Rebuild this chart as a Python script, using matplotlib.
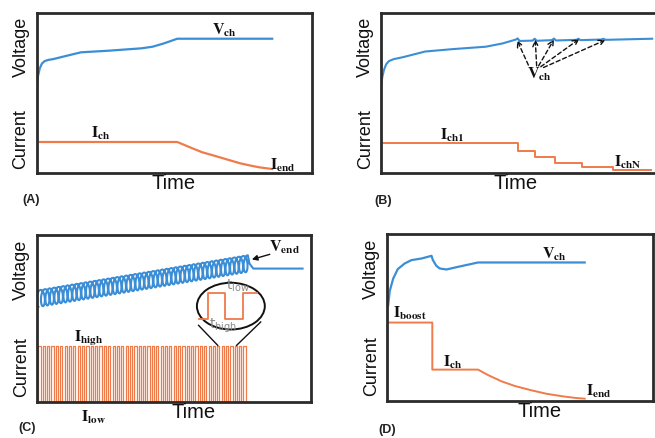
import matplotlib.pyplot as plt
from matplotlib.patches import Ellipse
import numpy as np

plt.rcParams['font.family'] = ['Liberation Sans', 'DejaVu Sans']
plt.rcParams['mathtext.fontset'] = 'stix'

BLUE = '#3b8ed6'
ORANGE = '#ef7b4b'
EDGE = '#2b2b2b'

#==============================================================================
# Data (x and y are fractions of each panel box)
#==============================================================================
# (A) CC-CV
a_v_t = [0.0, 0.004, 0.01, 0.018, 0.028, 0.04, 0.06, 0.10, 0.16, 0.26, 0.38, 0.42,
         0.46, 0.51, 0.855]
a_v = [0.56, 0.61, 0.655, 0.685, 0.70, 0.707, 0.713, 0.73, 0.755, 0.765, 0.78, 0.79,
       0.81, 0.84, 0.84]
a_i_t = [0.01, 0.51, 0.55, 0.60, 0.655, 0.70, 0.74, 0.78, 0.81, 0.855]
a_i = [0.194, 0.194, 0.165, 0.13, 0.103, 0.08, 0.06, 0.045, 0.035, 0.025]

# (B) multistage constant current
b_v_t = [0.0, 0.004, 0.01, 0.018, 0.028, 0.045, 0.08, 0.16, 0.26, 0.38, 0.44, 0.49,
         0.496, 0.503, 0.55, 0.558, 0.565, 0.62, 0.628, 0.635, 0.71, 0.717, 0.724,
         0.80, 0.808, 0.815, 0.985]
b_v = [0.55, 0.60, 0.645, 0.68, 0.70, 0.712, 0.725, 0.76, 0.775, 0.79, 0.81, 0.835,
       0.842, 0.826, 0.828, 0.84, 0.827, 0.831, 0.841, 0.829, 0.833, 0.84, 0.831,
       0.835, 0.84, 0.833, 0.84]
b_i_t = [0.0, 0.496, 0.56, 0.633, 0.73, 0.841, 0.98]
b_i = [0.1875, 0.14, 0.098, 0.0625, 0.035, 0.017, 0.017]
b_arrow_from = [(0.535, 0.675), (0.565, 0.67), (0.572, 0.67), (0.58, 0.665), (0.59, 0.66)]
b_arrow_to = [(0.494, 0.83), (0.56, 0.835), (0.628, 0.835), (0.72, 0.838), (0.815, 0.832)]

# (C) pulse charging
c_n_pulse = 48
c_pulse_start, c_pulse_end = 0.005, 0.77
c_i_high, c_i_low = 0.334, 0.0
c_v_cycles = 46.5
c_v_base_start, c_v_base_end = 0.62, 0.83
c_v_amp = 0.05
c_v_loop = 0.011
c_v_tail_t = [0.77, 0.776, 0.79, 0.97]
c_v_tail = [0.88, 0.83, 0.80, 0.80]
c_zoom_t = [0.59, 0.626, 0.626, 0.688, 0.688, 0.752, 0.752, 0.805]
c_zoom_i = [0.50, 0.50, 0.655, 0.655, 0.50, 0.50, 0.655, 0.655]

# (D) boost charging
d_v_t = [0.004, 0.01, 0.023, 0.04, 0.066, 0.091, 0.13, 0.167, 0.172, 0.185, 0.198,
         0.223, 0.267, 0.342, 0.743]
d_v = [0.574, 0.66, 0.734, 0.79, 0.824, 0.844, 0.854, 0.87, 0.845, 0.81, 0.794,
       0.788, 0.804, 0.83, 0.83]
d_i_t = [0.004, 0.17, 0.17, 0.342, 0.38, 0.43, 0.48, 0.54, 0.60, 0.66, 0.71, 0.743]
d_i = [0.47, 0.47, 0.188, 0.188, 0.155, 0.118, 0.09, 0.065, 0.043, 0.028, 0.018, 0.014]


def setup(rect, letter, letter_xy, time_x):
    ax = fig.add_axes(rect)
    ax.set_xlim(0, 1)
    ax.set_ylim(0, 1)
    ax.set_xticks([])
    ax.set_yticks([])
    for sp in ax.spines.values():
        sp.set_color(EDGE)
        sp.set_linewidth(2.0)
    ax.text(-0.058, 0.79, 'Voltage', rotation=90, fontsize=13, color='#111111',
            ha='center', va='center', transform=ax.transAxes)
    ax.text(-0.058, 0.21, 'Current', rotation=90, fontsize=13, color='#111111',
            ha='center', va='center', transform=ax.transAxes)
    ax.text(time_x, -0.065, 'Time', fontsize=14.5, color='#111111',
            ha='center', va='center', transform=ax.transAxes)
    fig.text(letter_xy[0], letter_xy[1], letter, fontsize=9, fontweight='bold',
             color='#222222', ha='center', va='center')
    return ax


def lab(ax, x, y, txt, size=11.5):
    ax.text(x, y, txt, fontsize=size, color='#111111', ha='center', va='center')


fig = plt.figure(figsize=(6.55, 4.38), dpi=100)

# (A)
ax = setup([0.0565, 0.605, 0.42, 0.365], '(A)', (0.048, 0.543), 0.495)
ax.plot(a_v_t, a_v, color=BLUE, lw=1.6)
ax.plot(a_i_t, a_i, color=ORANGE, lw=1.6)
lab(ax, 0.68, 0.895, r'$\mathbf{V_{ch}}$')
lab(ax, 0.23, 0.25, r'$\mathbf{I_{ch}}$')
lab(ax, 0.895, 0.05, r'$\mathbf{I_{end}}$')

# (B)
ax = setup([0.582, 0.605, 0.42, 0.365], '(B)', (0.585, 0.541), 0.49)
ax.plot(b_v_t, b_v, color=BLUE, lw=1.5)
ax.step(b_i_t, b_i, where='post', color=ORANGE, lw=1.4)
for p0, p1 in zip(b_arrow_from, b_arrow_to):
    ax.annotate('', xy=p1, xytext=p0,
                arrowprops=dict(arrowstyle='->', color='#111111', lw=1.0,
                                linestyle=(0, (3, 2)), shrinkA=0, shrinkB=0))
lab(ax, 0.575, 0.615, r'$\mathbf{V_{ch}}$')
lab(ax, 0.26, 0.235, r'$\mathbf{I_{ch1}}$')
lab(ax, 0.895, 0.065, r'$\mathbf{I_{chN}}$')

# (C)
ax = setup([0.0565, 0.082, 0.418, 0.381], '(C)', (0.041, 0.023), 0.57)
# voltage coil riding on a rising baseline
s = np.linspace(0, 1, 8000)
ph = 2 * np.pi * c_v_cycles * s
tc = c_pulse_start + (c_pulse_end - c_pulse_start) * s
base = c_v_base_start + (c_v_base_end - c_v_base_start) * s
cx = tc - c_v_loop * np.sin(ph)
cy = base - c_v_amp * np.cos(ph)
ax.plot(np.append(cx, c_v_tail_t), np.append(cy, c_v_tail), color=BLUE, lw=1.5)
# current pulse train
edges = np.linspace(c_pulse_start, c_pulse_end, 2 * c_n_pulse + 1)
levels = np.append(np.tile([c_i_high, c_i_low], c_n_pulse), c_i_low)
ax.step(np.insert(edges, 0, c_pulse_start), np.insert(levels, 0, c_i_low),
        where='post', color=ORANGE, lw=0.9)
# magnifier
ax.add_patch(Ellipse((0.708, 0.575), 0.248, 0.28, fill=False, ec='#111111', lw=1.4))
ax.plot([0.59, 0.66], [0.46, 0.34], color='#111111', lw=1.0)
ax.plot([0.817, 0.729], [0.48, 0.34], color='#111111', lw=1.0)
ax.plot(c_zoom_t, c_zoom_i, color=ORANGE, lw=1.3)
ax.text(0.735, 0.695, r'$\mathrm{t_{low}}$', fontsize=10, color='#8a8a8a',
        ha='center', va='center', math_fontfamily='dejavusans')
ax.text(0.68, 0.455, r'$\mathrm{t_{high}}$', fontsize=10, color='#8a8a8a',
        ha='center', va='center', math_fontfamily='dejavusans')
ax.annotate('', xy=(0.775, 0.85), xytext=(0.86, 0.89),
            arrowprops=dict(arrowstyle='-|>', color='#111111', lw=1.0, mutation_scale=8))
lab(ax, 0.905, 0.93, r'$\mathbf{V_{end}}$')
lab(ax, 0.19, 0.38, r'$\mathbf{I_{high}}$')
ax.text(0.205, -0.09, r'$\mathbf{I_{low}}$', fontsize=11.5, color='#111111',
        ha='center', va='center', transform=ax.transAxes)

# (D)
ax = setup([0.591, 0.0845, 0.406, 0.381], '(D)', (0.591, 0.019), 0.574)
ax.plot(d_v_t, d_v, color=BLUE, lw=1.6)
ax.plot(d_i_t, d_i, color=ORANGE, lw=1.4)
lab(ax, 0.63, 0.88, r'$\mathbf{V_{ch}}$')
lab(ax, 0.085, 0.524, r'$\mathbf{I_{boost}}$')
lab(ax, 0.245, 0.234, r'$\mathbf{I_{ch}}$')
lab(ax, 0.795, 0.06, r'$\mathbf{I_{end}}$')

plt.savefig('out.png', dpi=100)
